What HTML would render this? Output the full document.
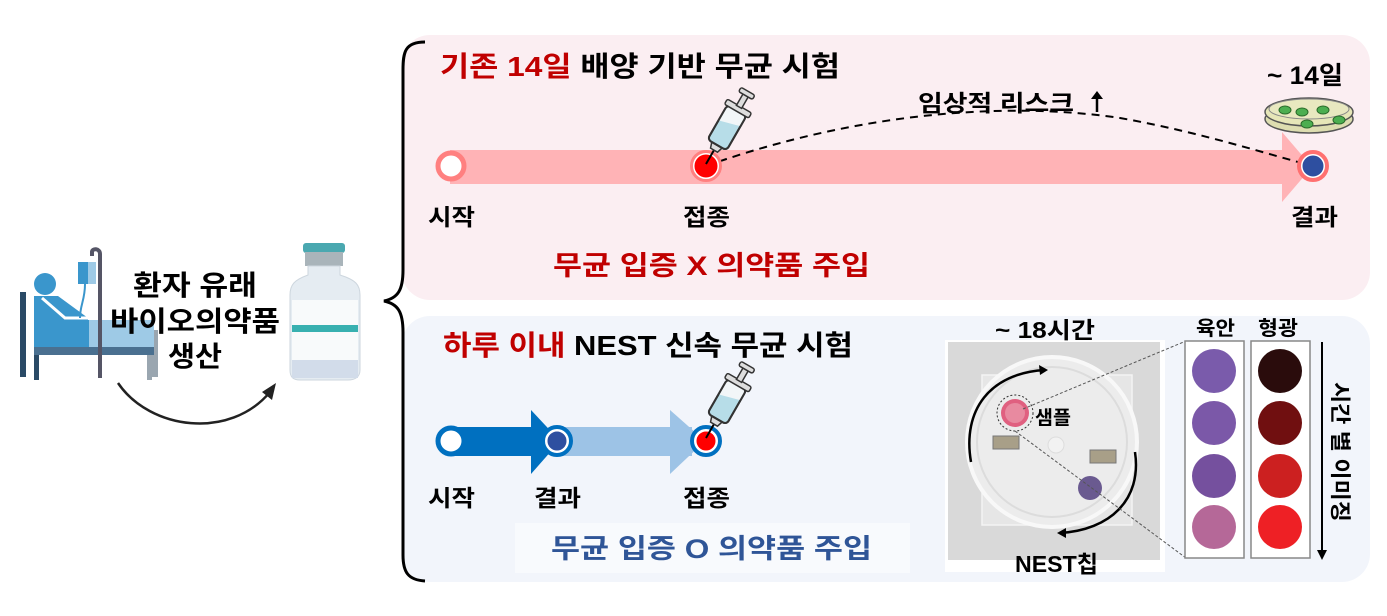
<!DOCTYPE html>
<html><head><meta charset="utf-8">
<style>
html,body{margin:0;padding:0;background:#fff;}
svg{display:block;}
text{font-family:"Liberation Sans","Noto Sans CJK KR",sans-serif;font-weight:bold;}
</style></head><body>
<svg width="1387" height="616" viewBox="0 0 1387 616" xmlns="http://www.w3.org/2000/svg">
<defs>
<g id="syr">
  <line x1="0" y1="0" x2="0" y2="-18" stroke="#000" stroke-width="2"/>
  <path d="M-4,-16 L4,-16 L6,-22 L-6,-22 Z" fill="#ddd" stroke="#333" stroke-width="1.5"/>
  <rect x="-11" y="-62" width="22" height="40" rx="4" fill="#b7dde8" stroke="#333" stroke-width="2"/>
  <path d="M-11,-62 L11,-62 L11,-50 L-11,-44 Z" fill="#f2f6f8"/>
  <rect x="-11" y="-62" width="22" height="40" rx="4" fill="none" stroke="#333" stroke-width="2"/>
  <rect x="-14" y="-67" width="28" height="6" rx="2" fill="#ddd" stroke="#333" stroke-width="1.5"/>
  <rect x="-3" y="-80" width="6" height="14" fill="#ddd" stroke="#333" stroke-width="1.5"/>
  <rect x="-8" y="-84" width="16" height="5" rx="2" fill="#ddd" stroke="#333" stroke-width="1.5"/>
</g>
</defs>

<rect x="402" y="35" width="968" height="265" rx="28" fill="#fbeef2"/>
<rect x="402" y="316" width="968" height="266" rx="28" fill="#f2f5fb"/>
<path d="M425,42 C405,42 403,52 403,70 L403,270 C403,290 398,298 384,301 C398,304 403,312 403,332 L403,555 C403,572 408,580 425,581" fill="none" stroke="#000" stroke-width="3"/>

<!-- Top panel -->
<text x="440" y="76" font-size="28" textLength="400" lengthAdjust="spacingAndGlyphs"><tspan fill="#c00000">기존 14일</tspan><tspan fill="#000"> 배양 기반 무균 시험</tspan></text>
<rect x="450" y="150" width="840" height="34" fill="#ffb3b6"/>
<polygon points="1282,132 1312,167 1282,202" fill="#ffb3b6"/>
<path d="M706,166 C850,115 1000,100 1120,118 C1200,132 1270,155 1313,166" fill="none" stroke="#000" stroke-width="2" stroke-dasharray="8,6"/>
<circle cx="451" cy="166" r="13" fill="#fff" stroke="#ff8080" stroke-width="5"/>
<circle cx="706" cy="166" r="13" fill="#ff0000" stroke="#fff" stroke-width="3"/>
<circle cx="706" cy="166" r="14.5" fill="none" stroke="#ff8080" stroke-width="3"/>
<circle cx="1313" cy="166" r="12" fill="#2e4fa0" stroke="#fff" stroke-width="3"/>
<circle cx="1313" cy="166" r="14" fill="none" stroke="#ff7070" stroke-width="4"/>
<g transform="translate(706,164) rotate(30)"><use href="#syr"/></g>
<text x="918" y="111" font-size="23" textLength="156" lengthAdjust="spacingAndGlyphs">임상적 리스크</text>
<line x1="1097" y1="112" x2="1097" y2="96" stroke="#000" stroke-width="2.5"/>
<polygon points="1091,99 1103,99 1097,91" fill="#000"/>
<text x="1267" y="84" font-size="25" textLength="76" lengthAdjust="spacingAndGlyphs">~ 14일</text>
<ellipse cx="1309" cy="119" rx="44" ry="14" fill="#ddddb0" stroke="#555" stroke-width="1.5"/>
<ellipse cx="1309" cy="112" rx="44" ry="14" fill="#e6e6b8" stroke="#555" stroke-width="1.5"/>
<ellipse cx="1309" cy="109" rx="40" ry="10" fill="#e8e8c0" stroke="#888" stroke-width="1"/>
<g fill="#4cae50" stroke="#2a6a2a" stroke-width="1">
<ellipse cx="1285" cy="110" rx="6" ry="4"/><ellipse cx="1302" cy="112" rx="6" ry="4"/><ellipse cx="1323" cy="110" rx="6" ry="4"/><ellipse cx="1339" cy="120" rx="6" ry="4"/><ellipse cx="1307" cy="124" rx="6" ry="4"/></g>
<text x="428" y="225" font-size="23" textLength="47" lengthAdjust="spacingAndGlyphs">시작</text>
<text x="683" y="225" font-size="23" textLength="47" lengthAdjust="spacingAndGlyphs">접종</text>
<text x="1291" y="225" font-size="23" textLength="47" lengthAdjust="spacingAndGlyphs">결과</text>
<text x="553" y="275" font-size="27" fill="#c00000" textLength="317" lengthAdjust="spacingAndGlyphs">무균 입증 X 의약품 주입</text>

<!-- Bottom panel -->
<text x="443" y="355" font-size="28" textLength="410" lengthAdjust="spacingAndGlyphs"><tspan fill="#c00000">하루 이내</tspan><tspan fill="#000"> NEST 신속 무균 시험</tspan></text>
<rect x="556" y="427" width="136" height="29" fill="#9dc3e6"/>
<polygon points="670,410 705,441 670,474" fill="#9dc3e6"/>
<rect x="450" y="427" width="90" height="29" fill="#0070c0"/>
<polygon points="531,410 560,441 531,474" fill="#0070c0"/>
<circle cx="451" cy="441" r="13" fill="#fff" stroke="#0070c0" stroke-width="5"/>
<circle cx="557" cy="441" r="11" fill="#2e4fa0" stroke="#fff" stroke-width="3"/>
<circle cx="557" cy="441" r="14" fill="none" stroke="#0070c0" stroke-width="4"/>
<circle cx="706" cy="441" r="11" fill="#ff0000" stroke="#fff" stroke-width="3"/>
<circle cx="706" cy="441" r="14" fill="none" stroke="#0070c0" stroke-width="4"/>
<g transform="translate(706,438) rotate(30)"><use href="#syr"/></g>
<text x="428" y="506" font-size="23" textLength="47" lengthAdjust="spacingAndGlyphs">시작</text>
<text x="534" y="506" font-size="23" textLength="47" lengthAdjust="spacingAndGlyphs">결과</text>
<text x="683" y="506" font-size="23" textLength="47" lengthAdjust="spacingAndGlyphs">접종</text>
<rect x="515" y="523" width="395" height="50" fill="#f8fafd"/>
<text x="551" y="558" font-size="27" fill="#2f5597" textLength="321" lengthAdjust="spacingAndGlyphs">무균 입증 O 의약품 주입</text>

<!-- photo -->
<rect x="945" y="340" width="220" height="232" fill="#fff"/>
<rect x="948" y="342" width="212" height="218" fill="#d9d9d9"/>
<rect x="982" y="375" width="150" height="150" fill="#e6e6e6" stroke="#f4f4f4" stroke-width="1.5"/>
<circle cx="1052" cy="442" r="85" fill="#ececec" stroke="#f8f8f8" stroke-width="4"/>
<circle cx="1052" cy="442" r="75" fill="none" stroke="#dcdcdc" stroke-width="2"/>
<circle cx="1015" cy="413" r="14" fill="#e06080"/>
<circle cx="1015" cy="413" r="10" fill="#e88aa0"/>
<circle cx="1015" cy="413" r="18" fill="none" stroke="#333" stroke-width="1" stroke-dasharray="2,2"/>
<circle cx="1090" cy="488" r="12" fill="#6a5a90"/>
<circle cx="1056" cy="445" r="8" fill="#f2f2f2" stroke="#ddd"/>
<rect x="993" y="436" width="26" height="13" fill="#a89f88" stroke="#777"/>
<rect x="1090" y="450" width="26" height="13" fill="#a89f88" stroke="#777"/>
<path d="M971,462 C962,410 990,373 1045,370" fill="none" stroke="#000" stroke-width="2.5"/>
<polygon points="1048,370 1039,365 1040,375" fill="#000"/>
<path d="M1135,452 C1142,500 1110,530 1060,533" fill="none" stroke="#000" stroke-width="2.5"/>
<polygon points="1057,533 1066,528 1066,538" fill="#000"/>
<text x="1035" y="424" font-size="19" textLength="36" lengthAdjust="spacingAndGlyphs">샘플</text>
<text x="1015" y="572" font-size="23" textLength="83" lengthAdjust="spacingAndGlyphs">NEST칩</text>
<text x="995" y="338" font-size="23" textLength="100" lengthAdjust="spacingAndGlyphs">~ 18시간</text>
<line x1="1023" y1="409" x2="1186" y2="341" stroke="#555" stroke-width="1" stroke-dasharray="3,2"/>
<line x1="1015" y1="431" x2="1186" y2="558" stroke="#555" stroke-width="1" stroke-dasharray="3,2"/>

<rect x="1185" y="341" width="59" height="217" fill="#fff" stroke="#888" stroke-width="1.5"/>
<rect x="1251" y="341" width="59" height="217" fill="#fff" stroke="#888" stroke-width="1.5"/>
<text x="1196" y="335" font-size="20" textLength="39" lengthAdjust="spacingAndGlyphs">육안</text>
<text x="1258" y="335" font-size="20" textLength="40" lengthAdjust="spacingAndGlyphs">형광</text>
<circle cx="1214" cy="371" r="22" fill="#7a5bab"/>
<circle cx="1214" cy="423" r="22" fill="#7b58a8"/>
<circle cx="1214" cy="476" r="22" fill="#75509e"/>
<circle cx="1214" cy="527" r="22" fill="#b56898"/>
<circle cx="1280" cy="371" r="22" fill="#2a0c0c"/>
<circle cx="1280" cy="423" r="22" fill="#700f10"/>
<circle cx="1280" cy="476" r="22" fill="#cc2020"/>
<circle cx="1280" cy="527" r="22" fill="#ee2025"/>
<line x1="1322" y1="342" x2="1322" y2="552" stroke="#000" stroke-width="2"/>
<polygon points="1317,550 1327,550 1322,560" fill="#000"/>
<text transform="translate(1333,382) rotate(90)" font-size="21" textLength="140" lengthAdjust="spacingAndGlyphs">시간 별 이미징</text>

<!-- left: patient -->
<g>
<rect x="20" y="292" width="6" height="85" fill="#2a4a66"/>
<rect x="152" y="330" width="6" height="47" fill="#9aa6b0"/>
<rect x="34" y="345" width="120" height="10" fill="#4a7090"/>
<rect x="34" y="320" width="120" height="27" fill="#9ecae6"/>
<rect x="34" y="320" width="55" height="27" fill="#3a96cc"/>
<rect x="34" y="355" width="5" height="25" fill="#2a4a66"/>
<rect x="147" y="355" width="5" height="25" fill="#9aa6b0"/>
<circle cx="45" cy="284" r="11" fill="#3a96cc"/>
<path d="M34,296 L58,296 L88,318 L88,322 L34,322 Z" fill="#3a96cc"/>
<path d="M42,298 L65,318 L95,318" fill="none" stroke="#fff" stroke-width="3"/>
<rect x="78" y="262" width="14" height="22" fill="#3a96cc"/>
<rect x="88" y="262" width="8" height="22" fill="#9ecae6"/>
<path d="M85,284 C85,300 80,305 80,318" fill="none" stroke="#3a96cc" stroke-width="2"/>
<path d="M92,256 L92,252 C92,248 100,248 100,254 L100,378" fill="none" stroke="#556" stroke-width="4"/>
</g>
<text x="133" y="295" font-size="28" textLength="124" lengthAdjust="spacingAndGlyphs">환자 유래</text>
<text x="110" y="331" font-size="28" textLength="170" lengthAdjust="spacingAndGlyphs">바이오의약품</text>
<text x="168" y="366" font-size="28" textLength="54" lengthAdjust="spacingAndGlyphs">생산</text>
<path d="M118,383 C150,430 230,440 270,392" fill="none" stroke="#222" stroke-width="2.5"/>
<polygon points="276,383 262,392 272,400" fill="#222"/>

<rect x="303" y="243" width="42" height="10" rx="3" fill="#4aa8b0"/>
<rect x="305" y="252" width="38" height="14" fill="#a9b4ba"/>
<path d="M308,266 L340,266 L340,275 C356,280 360,285 360,295 L360,370 C360,377 355,380 348,380 L300,380 C293,380 290,377 290,370 L290,295 C290,285 294,280 308,275 Z" fill="#e5ecf2" stroke="#cdd6de" stroke-width="1"/>
<rect x="292" y="300" width="66" height="60" fill="#f8fafb"/>
<rect x="292" y="325" width="66" height="7" fill="#38b0b0"/>
<rect x="292" y="360" width="66" height="18" fill="#d2dcea"/>
</svg>
</body></html>
